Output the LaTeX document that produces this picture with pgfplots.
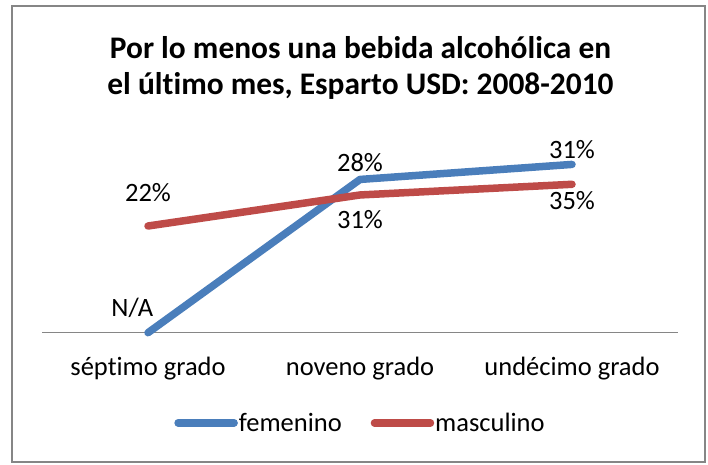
\documentclass[border=0pt]{standalone}
\usepackage{pgfplots}
\pgfplotsset{compat=1.18}
\usepackage{fontspec}
\setmainfont{Carlito}[Ligatures=NoCommon]
\definecolor{fem}{HTML}{4A7EBB}
\definecolor{mas}{HTML}{BE4B48}
\definecolor{axgray}{HTML}{868686}
\newcommand{\lbl}{\fontsize{26.5}{31}\selectfont}
\newcommand{\ttl}{\fontsize{31.4}{37}\selectfont\bfseries}
\begin{document}
\begin{tikzpicture}[x=1pt,y=1pt]
\useasboundingbox (0,0) rectangle (708,464);
\draw[axgray, line width=2pt] (12,2) rectangle (705,458);
\node[font=\ttl, anchor=base] at (360.5,405) {Por lo menos una bebida alcohólica en};
\node[font=\ttl, anchor=base] at (360.5,369) {el último mes, Esparto USD: 2008-2010};
\begin{axis}[
  at={(42pt,131.3pt)}, anchor=south west,
  scale only axis, width=636pt, height=194pt,
  xmin=-0.5, xmax=2.5, ymin=0, ymax=40,
  axis y line=none, axis x line=bottom,
  x axis line style={-, draw=axgray, line width=1.5pt},
  xtick={0,1,2}, xticklabels={séptimo grado, noveno grado, undécimo grado},
  major tick length=0pt,
  xticklabel style={font=\lbl, anchor=base, yshift=-43pt},
  clip=false,
  legend columns=2,
  legend style={draw=none, fill=none, at={(0.5,-0.465)}, anchor=center, font=\lbl,
    inner sep=0pt, nodes={inner sep=1pt},
    /tikz/every even column/.append style={column sep=28pt}},
  legend image code/.code={\draw[#1, line cap=round] (0pt,0pt) -- (56pt,0pt);},
]
\addplot[fem, line width=7.5pt, line cap=round, line join=round] coordinates {(0,0) (1,31.6) (2,34.7)};
\addlegendentry{femenino}
\addplot[mas, line width=7.5pt, line cap=round, line join=round] coordinates {(0,22) (1,28.4) (2,30.6)};
\addlegendentry{masculino}
\node[font=\lbl] at (axis cs:0,28.8) {22\%};
\node[font=\lbl] at (axis cs:-0.074,5.1) {N/A};
\node[font=\lbl] at (axis cs:1,35.0) {28\%};
\node[font=\lbl] at (axis cs:1,23.4) {31\%};
\node[font=\lbl] at (axis cs:2,37.7) {31\%};
\node[font=\lbl] at (axis cs:2,27.2) {35\%};
\end{axis}
\end{tikzpicture}
\end{document}
